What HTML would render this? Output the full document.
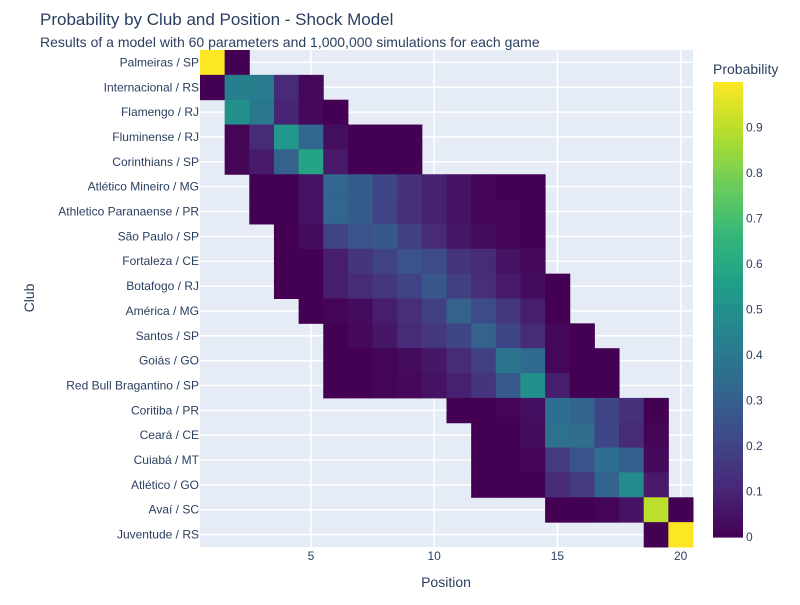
<!DOCTYPE html>
<html><head><meta charset="utf-8"><style>
body{margin:0;background:#fff;font-family:"Liberation Sans",sans-serif;}
svg text{font-family:"Liberation Sans",sans-serif;}
</style></head><body>
<svg id="chart" width="800" height="600" xmlns="http://www.w3.org/2000/svg">
<text x="40" y="25" font-size="17" fill="#2a3f5f">Probability by Club and Position - Shock Model</text>
<text x="40" y="47" font-size="14" fill="#2a3f5f">Results of a model with 60 parameters and 1,000,000 simulations for each game</text>
<rect x="200" y="50" width="493" height="497" fill="#e5ecf6"/>
<g id="grid"></g><g id="cells"></g><g id="ylabels"></g><g id="xlabels"></g>
<text x="446" y="587" font-size="14" fill="#2a3f5f" text-anchor="middle">Position</text>
<text transform="translate(34,298) rotate(-90)" font-size="14" fill="#2a3f5f" text-anchor="middle">Club</text>
<text x="713" y="74" font-size="14" fill="#2a3f5f">Probability</text>
<g id="colorbar"></g>
</svg>
<script>
const clubs=["Palmeiras / SP","Internacional / RS","Flamengo / RJ","Fluminense / RJ","Corinthians / SP","Atlético Mineiro / MG","Athletico Paranaense / PR","São Paulo / SP","Fortaleza / CE","Botafogo / RJ","América / MG","Santos / SP","Goiás / GO","Red Bull Bragantino / SP","Coritiba / PR","Ceará / CE","Cuiabá / MT","Atlético / GO","Avaí / SC","Juventude / RS"];
const startCol=[1,1,2,2,2,3,3,4,4,4,5,6,6,6,11,12,12,12,15,19];
const rowValues=[
[1.0,0.0],
[0,0.43,0.42,0.12,0.02],
[0.5,0.4,0.1,0.02,0.0],
[0.01,0.12,0.53,0.33,0.04,0,0,0],
[0.01,0.07,0.31,0.58,0.07,0,0,0],
[0,0,0.05,0.33,0.29,0.21,0.14,0.09,0.05,0.01,0.0,0.0],
[0,0,0.05,0.33,0.29,0.2,0.14,0.09,0.05,0.01,0.01,0.0],
[0,0.03,0.2,0.25,0.27,0.19,0.12,0.06,0.03,0.01,0.0],
[0,0,0.08,0.15,0.2,0.25,0.23,0.15,0.12,0.05,0.02],
[0,0,0.08,0.12,0.16,0.2,0.27,0.19,0.13,0.07,0.03,0.0],
[0,0.01,0.03,0.08,0.13,0.19,0.31,0.23,0.16,0.08,0.0],
[0,0.02,0.06,0.12,0.16,0.21,0.31,0.21,0.12,0.02,0.0],
[0,0,0.01,0.03,0.06,0.12,0.19,0.38,0.34,0.02,0,0],
[0,0,0.01,0.02,0.05,0.09,0.15,0.28,0.5,0.08,0,0],
[0,0,0.01,0.04,0.36,0.32,0.21,0.14,0.0],
[0,0,0.03,0.37,0.35,0.21,0.12,0.01],
[0,0,0.01,0.17,0.25,0.36,0.3,0.02],
[0,0,0,0.12,0.17,0.32,0.48,0.07],
[0,0,0.01,0.05,0.9,0.0],
[0.0,1.0]
];
const xTicks=[5,10,15,20];
const cbTicks=[0,0.1,0.2,0.3,0.4,0.5,0.6,0.7,0.8,0.9];
const NS="http://www.w3.org/2000/svg";
const X0=200,X1=693,Y0=50,Y1=547,CW=(X1-X0)/20,RH=(Y1-Y0)/20;
const xs=c=>X0+(c-0.5)*CW, ys=r=>Y0+(r+0.5)*RH;
const vir=[[68,1,84],[72,40,120],[62,74,137],[49,104,142],[38,130,142],[31,158,137],[53,183,121],[109,205,89],[180,222,44],[253,231,37]];
function color(v){v=Math.max(0,Math.min(1,v));const t=v*9,i=Math.min(8,Math.floor(t)),f=t-i;const a=vir[i],b=vir[i+1];return `rgb(${a.map((c,k)=>Math.round(c+(b[k]-c)*f)).join(',')})`;}
function mk(tag,attrs,parent){const e=document.createElementNS(NS,tag);for(const k in attrs)e.setAttribute(k,attrs[k]);parent.appendChild(e);return e;}
const grid=document.getElementById('grid');
xTicks.forEach(t=>{const l=mk('line',{x1:xs(t),x2:xs(t),y1:Y0,y2:Y1,stroke:'#fff','stroke-width':1.5},grid);

});
clubs.forEach((c,r)=>{const l=mk('line',{x1:X0,x2:X1,y1:ys(r),y2:ys(r),stroke:'#fff','stroke-width':1.5},grid);

});
const cells=document.getElementById('cells');
rowValues.forEach((vals,r)=>vals.forEach((v,i)=>{const c=startCol[r]+i;
const e=mk('rect',{x:xs(c)-CW/2,y:ys(r)-RH/2,width:CW+0.5,height:RH+0.5,fill:color(v)},cells);

}));
const yl=document.getElementById('ylabels');
clubs.forEach((c,r)=>{const t=mk('text',{x:X0-1,y:ys(r)+4,'font-size':12,fill:'#2a3f5f','text-anchor':'end'},yl);t.textContent=c;

});
const xl=document.getElementById('xlabels');
xTicks.forEach(v=>{const t=mk('text',{x:xs(v),y:560,'font-size':12,fill:'#2a3f5f','text-anchor':'middle'},xl);t.textContent=v;

});
const cb=document.getElementById('colorbar');
const CB0=537,CB1=82,cbY=v=>CB0-(CB0-CB1)*v;
for(let k=0;k<100;k++){const v=k/100;const e=mk('rect',{x:713,y:cbY(v+0.01),width:30,height:(CB0-CB1)/100+0.6,fill:color(v+0.005)},cb);

}
cbTicks.forEach(v=>{const t=mk('text',{x:746,y:cbY(v)+4,'font-size':12,fill:'#2a3f5f'},cb);t.textContent=String(v);

});
</script>
</body></html>
